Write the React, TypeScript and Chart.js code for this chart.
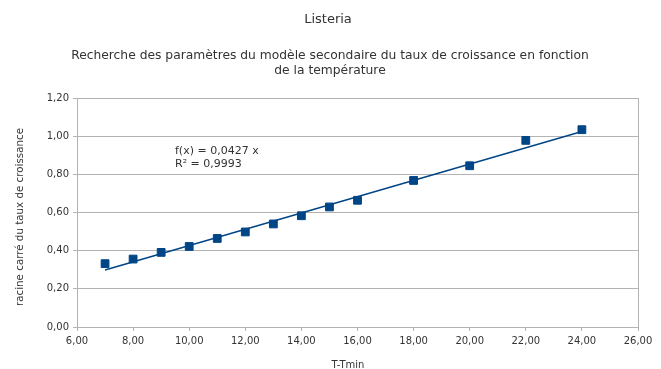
import React, { useEffect, useRef } from "react";
import { Chart, registerables } from "chart.js";

Chart.register(...registerables);

const temperatures = [7, 8, 9, 10, 11, 12, 13, 14, 15, 16, 18, 20, 22, 24];
const rootRates = [0.332, 0.356, 0.391, 0.422, 0.464, 0.498, 0.54, 0.583, 0.629, 0.664, 0.768, 0.845, 0.978, 1.034];
const trendSlope = 0.0427;
const trendLabel = ["f(x) = 0,0427 x", "R² = 0,9993"];
const titleText = "Listeria";
const subtitleLines = [
  "Recherche des paramètres du modèle secondaire du taux de croissance en fonction",
  "de la température",
];
const xTitle = "T-Tmin";
const yTitle = "racine carré du taux de croissance";

const FONT = "'DejaVu Sans', 'Liberation Sans', Arial, sans-serif";
const SERIES = "#004586";
const GRID = "#b3b3b3";
const TEXT = "#333333";

const fmt = (v: number) => v.toFixed(2).replace(".", ",");

export default function App() {
  const ref = useRef<HTMLCanvasElement | null>(null);
  useEffect(() => {
    document.body.style.margin = "0";
    const canvas = ref.current!;
    const xMin = Math.min(...temperatures);
    const xMax = Math.max(...temperatures);
    const trend = [
      { x: xMin, y: trendSlope * xMin },
      { x: xMax, y: trendSlope * xMax },
    ];
    const textPlugin = {
      id: "texts",
      afterDraw(chart: any) {
        const ctx = chart.ctx;
        const area = chart.chartArea;
        ctx.save();
        ctx.fillStyle = TEXT;
        ctx.textAlign = "center";
        ctx.textBaseline = "middle";
        ctx.font = `13px ${FONT}`;
        ctx.fillText(titleText, 328, 20);
        ctx.font = `12.3px ${FONT}`;
        ctx.fillText(subtitleLines[0], 330, 56);
        ctx.fillText(subtitleLines[1], 330, 71);
        ctx.font = `10px ${FONT}`;
        ctx.fillText(xTitle, 348, 365);
        ctx.save();
        ctx.translate(20, 217);
        ctx.rotate(-Math.PI / 2);
        ctx.font = `10.3px ${FONT}`;
        ctx.fillText(yTitle, 0, 0);
        ctx.restore();
        ctx.textAlign = "left";
        ctx.font = `11px ${FONT}`;
        ctx.fillText(trendLabel[0], 175, 151);
        ctx.fillText(trendLabel[1], 175, 164);
        // right frame line
        ctx.strokeStyle = GRID;
        ctx.lineWidth = 1;
        ctx.beginPath();
        ctx.moveTo(Math.round(area.right) + 0.5, area.top);
        ctx.lineTo(Math.round(area.right) + 0.5, area.bottom + 4);
        ctx.stroke();
        ctx.restore();
      },
    };
    const chart = new Chart(canvas, {
      type: "scatter",
      data: {
        datasets: [
          {
            label: "trend",
            type: "line",
            data: trend,
            borderColor: SERIES,
            borderWidth: 1.5,
            pointRadius: 0,
            showLine: true,
            order: 2,
          } as any,
          {
            label: "data",
            data: temperatures.map((t, i) => ({ x: t, y: rootRates[i] })),
            backgroundColor: SERIES,
            borderColor: SERIES,
            pointStyle: "rect",
            pointRadius: 5.5,
            order: 1,
          },
        ],
      },
      options: {
        animation: false,
        responsive: false,
        maintainAspectRatio: false,
        layout: { padding: { left: 0, right: 23, top: 98, bottom: 0 } },
        plugins: { legend: { display: false }, tooltip: { enabled: false }, title: { display: false } },
        scales: {
          x: {
            type: "linear",
            min: 6,
            max: 26,
            ticks: {
              stepSize: 2,
              callback: (v: any) => fmt(Number(v)),
              color: TEXT,
              font: { family: FONT, size: 10 },
              padding: 4,
              maxRotation: 0,
            },
            grid: { drawOnChartArea: false, color: GRID, tickLength: 4 },
            border: { color: GRID, width: 1 },
            afterFit: (s: any) => { s.height = 42; },
          },
          y: {
            min: 0,
            max: 1.2,
            ticks: {
              stepSize: 0.2,
              callback: (v: any) => fmt(Number(v)),
              color: TEXT,
              font: { family: FONT, size: 10 },
              padding: 4,
            },
            grid: { color: GRID, tickLength: 4 },
            border: { color: GRID, width: 1 },
            afterFit: (s: any) => { s.width = 77; },
          },
        },
      },
      plugins: [textPlugin],
    });
    return () => chart.destroy();
  }, []);
  return (
    <div style={{ position: "absolute", left: 0, top: 0, width: 661, height: 369, background: "#fff" }}>
      <canvas ref={ref} width={661} height={369} style={{ display: "block", width: 661, height: 369 }} />
    </div>
  );
}
